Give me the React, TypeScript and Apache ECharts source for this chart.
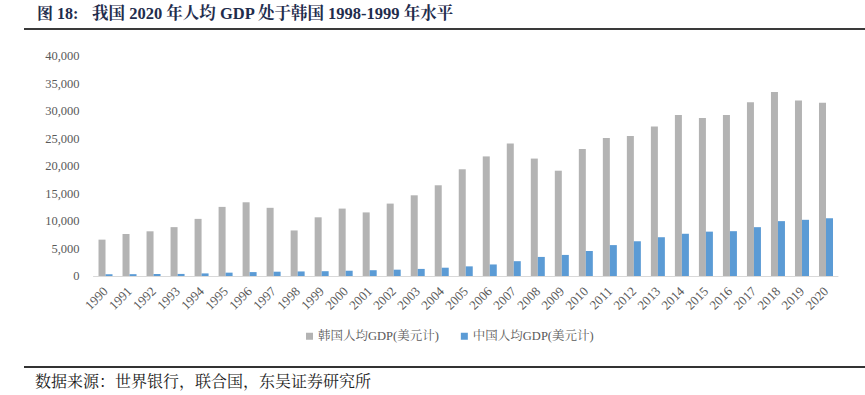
import React, { useEffect, useRef } from "react";
import * as echarts from "echarts";

const years = [
  "1990", "1991", "1992", "1993", "1994", "1995", "1996", "1997", "1998", "1999",
  "2000", "2001", "2002", "2003", "2004", "2005", "2006", "2007", "2008", "2009",
  "2010", "2011", "2012", "2013", "2014", "2015", "2016", "2017", "2018", "2019", "2020",
];
const koreaGdp = [
  6610, 7637, 8127, 8885, 10385, 12565, 13403, 12398, 8282, 10672,
  12257, 11561, 13165, 14673, 16496, 19403, 21743, 24086, 21350, 19144,
  23087, 25096, 25459, 27180, 29253, 28737, 29274, 31601, 33447, 31902, 31489,
];
const chinaGdp = [
  318, 333, 366, 377, 473, 610, 709, 782, 829, 873,
  959, 1053, 1149, 1289, 1509, 1753, 2099, 2694, 3468, 3832,
  4550, 5618, 6317, 7051, 7679, 8067, 8148, 8879, 9977, 10217, 10500,
];
const seriesNames = ["韩国人均GDP(美元计)", "中国人均GDP(美元计)"];
const titleLabel = "图 18:";
const titleText = "我国 2020 年人均 GDP 处于韩国 1998-1999 年水平";
const sourceText = "数据来源：世界银行，联合国，东吴证券研究所";

const serif = "'Liberation Serif', 'Times New Roman', 'Noto Serif CJK SC', 'Noto Sans CJK SC', serif";

export default function App() {
  const ref = useRef<HTMLDivElement>(null);
  useEffect(() => {
    if (!ref.current) return;
    const chart = echarts.init(ref.current, null, { renderer: "svg" });
    chart.setOption({
      animation: false,
      backgroundColor: "#ffffff",
      grid: { left: 93.5, right: 27, top: 56, bottom: 119 },
      legend: {
        top: 325,
        left: 301,
        itemWidth: 7,
        itemHeight: 7,
        itemGap: 22,
        icon: "rect",
        textStyle: { fontFamily: serif, fontSize: 12.5, color: "#595959" },
        data: seriesNames,
      },
      xAxis: {
        type: "category",
        data: years,
        axisLine: { show: true, lineStyle: { color: "#d9d9d9", width: 1 } },
        axisTick: { show: false },
        axisLabel: {
          rotate: 45,
          interval: 0,
          fontFamily: serif,
          fontSize: 13,
          color: "#595959",
          margin: 13,
        },
      },
      yAxis: {
        type: "value",
        min: 0,
        max: 40000,
        interval: 5000,
        splitLine: { show: false },
        axisLine: { show: false },
        axisTick: { show: false },
        axisLabel: {
          fontFamily: serif,
          fontSize: 12.5,
          color: "#595959",
          margin: 14,
          formatter: (v: number) => v.toLocaleString("en-US"),
        },
      },
      series: [
        {
          name: seriesNames[0],
          type: "bar",
          data: koreaGdp,
          barWidth: 7,
          barGap: "0%",
          itemStyle: { color: "#b3b3b3" },
        },
        {
          name: seriesNames[1],
          type: "bar",
          data: chinaGdp,
          barWidth: 7,
          barGap: "0%",
          itemStyle: { color: "#5b9bd5" },
        },
      ],
      graphic: [
        {
          type: "text",
          left: 37,
          top: 5,
          style: {
            text: titleLabel,
            fontFamily: serif,
            fontSize: 16,
            fontWeight: "bold",
            fill: "#1f2d4d",
          },
        },
        {
          type: "text",
          left: 92,
          top: 5,
          style: {
            text: titleText,
            fontFamily: serif,
            fontSize: 16.5,
            fontWeight: "bold",
            fill: "#1f2d4d",
          },
        },
        {
          type: "line",
          shape: { x1: 24, y1: 29, x2: 865, y2: 29 },
          style: { stroke: "#3a3a3a", lineWidth: 2 },
        },
        {
          type: "line",
          shape: { x1: 24, y1: 367, x2: 865, y2: 367 },
          style: { stroke: "#333333", lineWidth: 2 },
        },
        {
          type: "text",
          left: 35,
          top: 373,
          style: {
            text: sourceText,
            fontFamily: serif,
            fontSize: 16,
            fill: "#1a1a1a",
          },
        },
      ],
    });
    return () => chart.dispose();
  }, []);
  return (
    <div
      ref={ref}
      style={{ position: "absolute", left: 0, top: 0, width: 865, height: 395 }}
    />
  );
}
